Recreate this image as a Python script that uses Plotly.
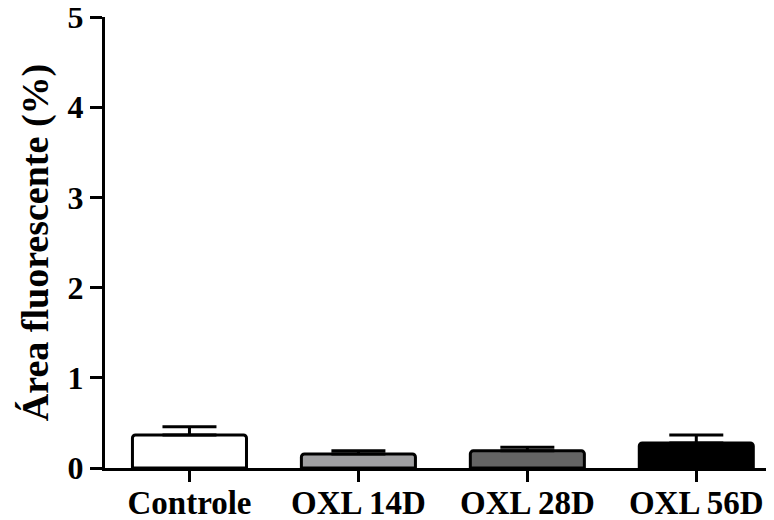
import plotly.graph_objects as go

categories = ["Controle", "OXL 14D", "OXL 28D", "OXL 56D"]
means = [0.366, 0.155, 0.19, 0.277]
errors = [0.09, 0.037, 0.04, 0.09]
bar_colors = ["#ffffff", "#a0a0a2", "#646464", "#000000"]
y_ticks = [0, 1, 2, 3, 4, 5]

FONT = "Liberation Serif"

fig = go.Figure()
fig.add_trace(go.Bar(
    x=categories,
    y=means,
    width=0.675,
    marker=dict(color=bar_colors, line=dict(color="black", width=3), cornerradius=3),
    error_y=dict(type="data", symmetric=False, array=errors,
                 arrayminus=[0] * len(errors),
                 color="black", thickness=3, width=27),
))

# page body has an 8px default margin, so the figure is 8px smaller
fig.update_layout(
    width=766, height=512,
    margin=dict(l=97, r=0, t=9, b=52),
    paper_bgcolor="white", plot_bgcolor="white",
    showlegend=False,
    font=dict(family=FONT, color="black"),
)
fig.update_xaxes(
    range=[-0.5, 3.46],
    automargin=False,
    showline=True, linewidth=3, linecolor="black",
    ticks="outside", ticklen=11, tickwidth=3, tickcolor="black",
    ticklabelstandoff=-8,
    ticklabeloverflow="allow",
    tickfont=dict(family=FONT, size=33, color="black", weight="bold"),
    showgrid=False, zeroline=False,
)
fig.update_yaxes(
    range=[0, 5],
    automargin=False,
    tickvals=y_ticks,
    showline=True, linewidth=3, linecolor="black",
    ticks="outside", ticklen=12, tickwidth=3, tickcolor="black",
    ticklabeloverflow="allow",
    tickfont=dict(family=FONT, size=32, color="black", weight="bold"),
    title=dict(text="Área fluorescente (%)", font=dict(family=FONT, size=38, color="black", weight="bold"), standoff=8),
    showgrid=False, zeroline=False,
)

fig.write_html("out.html")
